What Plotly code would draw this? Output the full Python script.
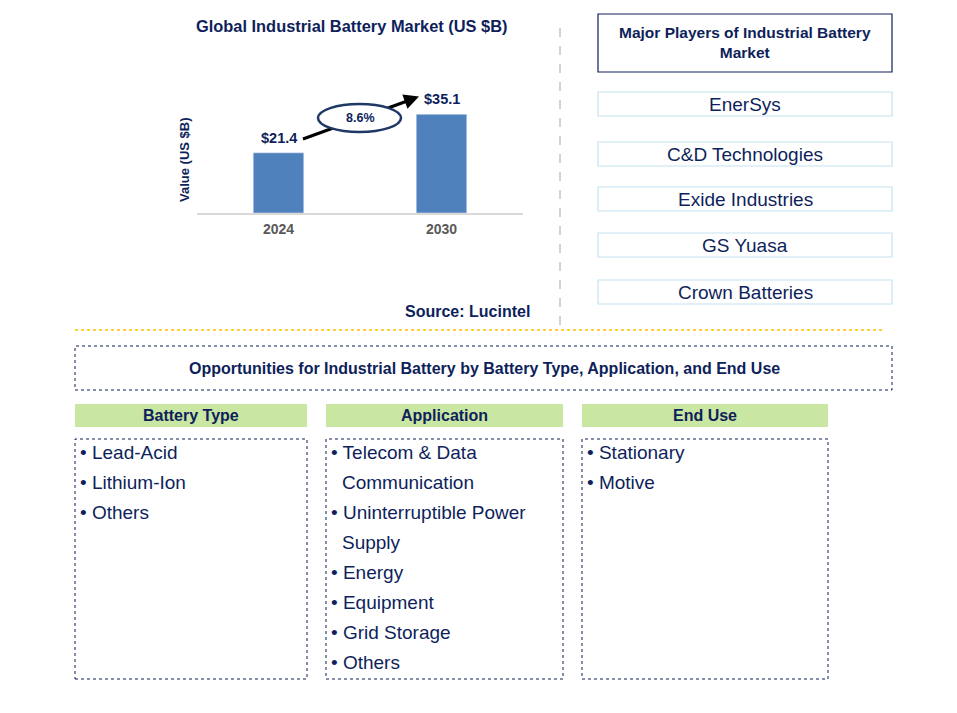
import plotly.graph_objects as go

W, H = 957, 713
OFF = 8  # page body margin in the browser
NAVY = "#0E1F5B"
FONT = "Arial, Liberation Sans, sans-serif"

years = ["2024", "2030"]
values = [21.4, 35.1]
value_labels = ["$21.4", "$35.1"]
cagr_label = "8.6%"
chart_title = "Global Industrial Battery Market (US $B)"
y_title = "Value (US $B)"
source = "Source: Lucintel"
players_title = "Major Players of Industrial Battery<br>Market"
players = ["EnerSys", "C&D Technologies", "Exide Industries", "GS Yuasa", "Crown Batteries"]
opp_title = "Opportunities for Industrial Battery by Battery Type, Application, and End Use"
seg_headers = ["Battery Type", "Application", "End Use"]
battery_type = [["Lead-Acid"], ["Lithium-Ion"], ["Others"]]
application = [["Telecom & Data", "Communication"], ["Uninterruptible Power", "Supply"],
               ["Energy"], ["Equipment"], ["Grid Storage"], ["Others"]]
end_use = [["Stationary"], ["Motive"]]
segments = [battery_type, application, end_use]


def px(x):
    return (x - OFF) / W


def py(y):
    return 1 - (y - OFF) / H


def note(x, y, text, size, bold=False, xanchor="center", angle=0, color=NAVY):
    return dict(x=px(x), y=py(y), xref="paper", yref="paper",
                text=f"<b>{text}</b>" if bold else text, showarrow=False,
                xanchor=xanchor, yanchor="middle", textangle=angle,
                font=dict(size=size, color=color, family=FONT))


fig = go.Figure()
fig.add_trace(go.Bar(x=years, y=values, marker_color="#4F81BD", width=0.31,
                     hoverinfo="skip"))

shapes = []
annotations = []

# bar value labels
for i, (v, lab) in enumerate(zip(values, value_labels)):
    annotations.append(dict(x=i, y=v, xref="x", yref="y", text=f"<b>{lab}</b>",
                            showarrow=False, xanchor="center", yanchor="bottom", yshift=5,
                            font=dict(size=14.5, color=NAVY, family=FONT)))

# CAGR arrow line + ellipse
shapes.append(dict(type="line", xref="paper", yref="paper",
                   x0=px(303), y0=py(139), x1=px(410), y1=py(100),
                   line=dict(color="black", width=3)))
annotations.append(dict(x=px(419), y=py(96.5), ax=-15, ay=5.5, xref="paper", yref="paper",
                        axref="pixel", ayref="pixel", text="", showarrow=True,
                        arrowhead=2, arrowsize=1, arrowwidth=3, arrowcolor="black"))
shapes.append(dict(type="circle", xref="paper", yref="paper",
                   x0=px(318), y0=py(132), x1=px(401), y1=py(104),
                   line=dict(color="#1F3864", width=2.5), fillcolor="white"))
annotations.append(note(360, 118, cagr_label, 12.5, bold=True))

# chart title, y-title, source
annotations.append(note(352, 26, chart_title, 16.4, bold=True))
annotations.append(note(184, 160, y_title, 13, bold=True, angle=-90))
annotations.append(note(467, 311, source, 16, bold=True))

# separators
shapes.append(dict(type="line", xref="paper", yref="paper", x0=px(560), x1=px(560),
                   y0=py(28), y1=py(332), line=dict(color="#A6A6A6", width=1, dash="dash")))
shapes.append(dict(type="line", xref="paper", yref="paper", x0=px(75), x1=px(882),
                   y0=py(330), y1=py(330), line=dict(color="#FFC000", width=1.5, dash="dot")))

# players
shapes.append(dict(type="rect", xref="paper", yref="paper", x0=px(598), x1=px(892),
                   y0=py(72), y1=py(14), line=dict(color=NAVY, width=1.2)))
annotations.append(note(745, 43, players_title, 15.5, bold=True))
player_tops = [92, 142, 187, 233, 280]
for name, top in zip(players, player_tops):
    shapes.append(dict(type="rect", xref="paper", yref="paper", x0=px(598), x1=px(892),
                       y0=py(top + 24), y1=py(top), line=dict(color="#C6E2F2", width=1.2)))
    annotations.append(note(745, top + 12.5, name, 19))

# opportunities box
shapes.append(dict(type="rect", xref="paper", yref="paper", x0=px(75), x1=px(892),
                   y0=py(390), y1=py(346), line=dict(color=NAVY, width=1, dash="dot")))
annotations.append(note(484, 368, opp_title, 16, bold=True))

cols = [(75, 307), (326, 563), (582, 828)]
for (x0, x1), head, items in zip(cols, seg_headers, segments):
    shapes.append(dict(type="rect", xref="paper", yref="paper", x0=px(x0), x1=px(x1),
                       y0=py(427), y1=py(404), line=dict(width=0), fillcolor="#C9E6A2"))
    annotations.append(note((x0 + x1) / 2, 415.5, head, 16, bold=True))
    shapes.append(dict(type="rect", xref="paper", yref="paper", x0=px(x0), x1=px(x1),
                       y0=py(679), y1=py(439), line=dict(color=NAVY, width=1, dash="dot")))
    row = 0
    for item in items:
        for k, line in enumerate(item):
            txt = ("• " + line) if k == 0 else line
            annotations.append(note(x0 + (3 if k == 0 else 14), 452 + 30 * row, txt, 19,
                                    xanchor="left"))
            row += 1

fig.update_layout(
    width=W, height=H, margin=dict(l=0, r=0, t=0, b=0),
    plot_bgcolor="white", paper_bgcolor="white", showlegend=False,
    shapes=shapes, annotations=annotations,
    xaxis=dict(domain=[px(197), px(523)], type="category", range=[-0.5, 1.5],
               showline=True, linecolor="#D9D9D9", linewidth=1.5, ticks="",
               ticklabelstandoff=2, showgrid=False,
               tickfont=dict(size=14, color="#595959", family=FONT, weight="bold")),
    yaxis=dict(domain=[py(213), py(60)], range=[0, 54.4], showticklabels=False,
               showgrid=False, zeroline=False, showline=False),
)

fig.write_html("out.html")
